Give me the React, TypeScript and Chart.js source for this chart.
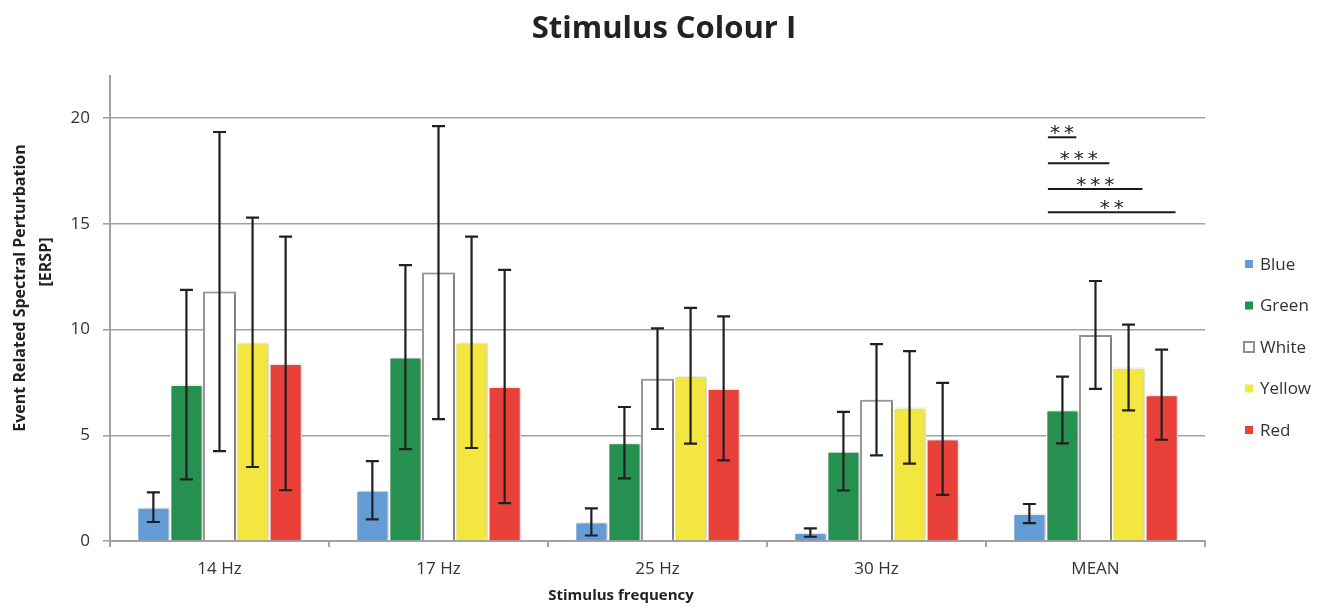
import { useEffect, useRef } from 'react';
import { Chart, registerables } from 'chart.js';

Chart.register(...registerables);

const chartTitle = 'Stimulus Colour I';
const xAxisTitle = 'Stimulus frequency';
const yAxisTitleLines = ['Event Related Spectral Perturbation', '[ERSP]'];

const categories = ['14 Hz', '17 Hz', '25 Hz', '30 Hz', 'MEAN'];
const seriesNames = ['Blue', 'Green', 'White', 'Yellow', 'Red'];

const blueValues = [1.6, 2.4, 0.9, 0.4, 1.3];
const blueErrors = [0.7, 1.38, 0.64, 0.2, 0.45];
const greenValues = [7.4, 8.7, 4.65, 4.25, 6.2];
const greenErrors = [4.48, 4.35, 1.69, 1.86, 1.58];
const whiteValues = [11.8, 12.7, 7.68, 6.68, 9.75];
const whiteErrors = [7.55, 6.93, 2.38, 2.63, 2.55];
const yellowValues = [9.4, 9.4, 7.82, 6.32, 8.21];
const yellowErrors = [5.9, 5.0, 3.21, 2.66, 2.03];
const redValues = [8.4, 7.31, 7.22, 4.83, 6.92];
const redErrors = [6.0, 5.52, 3.41, 2.65, 2.13];

const yTickValues = [0, 5, 10, 15, 20];
const yMax = 22;

// significance brackets (Blue vs. other colour, in the MEAN category)
const sigLabels = ['**', '***', '***', '**'];
const sigHeights = [19.1, 17.87, 16.65, 15.55];
const sigTargets = [1, 2, 3, 4];
const sigCategory = 4;

const fillColors = ['#649DD5', '#25904F', '#FFFFFF', '#F3E640', '#E9403A'];
const borderColors = ['#FFFFFF', '#FFFFFF', '#9A9A9A', '#FFFFFF', '#FFFFFF'];
const valueSets = [blueValues, greenValues, whiteValues, yellowValues, redValues];
const errorSets = [blueErrors, greenErrors, whiteErrors, yellowErrors, redErrors];

const FONT = '"Open Sans", "DejaVu Sans", sans-serif';
const GRID = '#A2A2A2';
const TEXT = '#333333';

const barsPlugin = {
  id: 'barsAndErrors',
  beforeDatasetsDraw(chart: any) {
    const ctx = chart.ctx;
    ctx.save();
    ctx.shadowColor = 'rgba(0,0,0,0.28)';
    ctx.shadowBlur = 3;
    ctx.shadowOffsetX = 1.5;
    ctx.shadowOffsetY = 0;
  },
  afterDatasetsDraw(chart: any) {
    const ctx = chart.ctx;
    ctx.restore();
    const y = chart.scales.y;
    ctx.save();
    ctx.strokeStyle = '#202020';
    ctx.lineWidth = 2.2;
    chart.data.datasets.forEach((ds: any, i: number) => {
      const meta = chart.getDatasetMeta(i);
      meta.data.forEach((bar: any, j: number) => {
        const v = ds.data[j];
        const e = ds.errors[j];
        const yt = y.getPixelForValue(v + e);
        const yb = y.getPixelForValue(Math.max(0, v - e));
        const cx = bar.x;
        const cap = 6.5;
        ctx.beginPath();
        ctx.moveTo(cx, yt);
        ctx.lineTo(cx, yb);
        ctx.moveTo(cx - cap, yt);
        ctx.lineTo(cx + cap, yt);
        ctx.moveTo(cx - cap, yb);
        ctx.lineTo(cx + cap, yb);
        ctx.stroke();
      });
    });
    ctx.restore();
  },
};

const annotationPlugin = {
  id: 'annotations',
  afterDraw(chart: any) {
    const ctx = chart.ctx;
    const y = chart.scales.y;
    const area = chart.chartArea;
    ctx.save();

    // title
    ctx.fillStyle = '#222';
    ctx.font = `bold 31px ${FONT}`;
    ctx.textAlign = 'center';
    ctx.textBaseline = 'alphabetic';
    ctx.fillText(chartTitle, 664, 38);

    // significance lines
    const base = chart.getDatasetMeta(0).data[sigCategory];
    const startX = base.x + base.width / 2 + 2;
    sigLabels.forEach((lab, k) => {
      const tgt = chart.getDatasetMeta(sigTargets[k]).data[sigCategory];
      const endX = tgt.x + tgt.width * 0.42;
      const ly = y.getPixelForValue(sigHeights[k]);
      ctx.strokeStyle = '#1A1A1A';
      ctx.lineWidth = 2;
      ctx.beginPath();
      ctx.moveTo(startX, ly);
      ctx.lineTo(endX, ly);
      ctx.stroke();
      ctx.fillStyle = '#222';
      ctx.font = '20px "DejaVu Sans", sans-serif';
      ctx.textAlign = 'center';
      ctx.textBaseline = 'alphabetic';
      const spaced = lab.split('').join('\u2009');
      ctx.fillText(spaced, (startX + endX) / 2, ly + 2);
    });

    // axis titles
    ctx.fillStyle = '#222';
    ctx.font = `bold 15px ${FONT}`;
    ctx.textAlign = 'center';
    ctx.textBaseline = 'alphabetic';
    ctx.fillText(xAxisTitle, 621, 600);

    ctx.font = `bold 16px ${FONT}`;
    ctx.textBaseline = 'middle';
    const yPos = [
      [20.5, 288],
      [46, 262],
    ];
    yAxisTitleLines.forEach((line, i) => {
      ctx.save();
      ctx.translate(yPos[i][0], yPos[i][1]);
      ctx.rotate(-Math.PI / 2);
      ctx.fillText(line, 0, 0);
      ctx.restore();
    });

    // legend
    const lx = area.right + 40;
    const ly0 = 264;
    const gap = 41.5;
    ctx.font = `17px ${FONT}`;
    ctx.textAlign = 'left';
    ctx.textBaseline = 'middle';
    seriesNames.forEach((name, i) => {
      const cy = ly0 + i * gap;
      if (fillColors[i] === '#FFFFFF') {
        ctx.strokeStyle = '#8F8F8F';
        ctx.lineWidth = 2;
        ctx.strokeRect(lx - 1, cy - 5, 10, 10);
      } else {
        ctx.fillStyle = fillColors[i];
        ctx.fillRect(lx, cy - 4, 8, 8);
      }
      ctx.fillStyle = TEXT;
      ctx.fillText(name, lx + 15, cy + 1);
    });
    ctx.restore();
  },
};

export default function App() {
  const ref = useRef<HTMLCanvasElement | null>(null);

  useEffect(() => {
    if (!ref.current) return;
    const chart = new Chart(ref.current, {
      type: 'bar',
      data: {
        labels: categories,
        datasets: seriesNames.map((name, i) => ({
          label: name,
          data: valueSets[i],
          errors: errorSets[i],
          backgroundColor: fillColors[i],
          borderColor: borderColors[i],
          borderWidth: i === 2 ? 2 : 1.5,
          categoryPercentage: 0.755,
          barPercentage: 1.0,
        })) as any,
      },
      options: {
        animation: false,
        responsive: true,
        maintainAspectRatio: false,
        layout: { padding: { left: 0, right: 121, top: 76, bottom: 0 } },
        plugins: {
          legend: { display: false },
          tooltip: { enabled: false },
          title: { display: false },
        },
        scales: {
          x: {
            afterFit: (s: any) => {
              s.height = 67;
            },
            grid: {
              offset: true,
              drawOnChartArea: false,
              drawTicks: true,
              tickLength: 6,
              color: GRID,
              lineWidth: 2,
            },
            border: { color: GRID, width: 2 },
            ticks: {
              color: TEXT,
              font: { family: FONT, size: 17 },
              padding: 12,
            },
          },
          y: {
            min: 0,
            max: yMax,
            afterFit: (s: any) => {
              s.width = 110;
            },
            afterBuildTicks: (s: any) => {
              s.ticks = yTickValues.map((v) => ({ value: v }));
            },
            grid: {
              color: GRID,
              lineWidth: 1.6,
              tickLength: 7,
              drawTicks: true,
            },
            border: { color: GRID, width: 2 },
            ticks: {
              color: TEXT,
              font: { family: FONT, size: 17 },
              padding: 13,
            },
          },
        },
      } as any,
      plugins: [barsPlugin, annotationPlugin],
    });
    return () => chart.destroy();
  }, []);

  return (
    <div style={{ position: 'absolute', left: 0, top: 0, width: 1326, height: 608 }}>
      <canvas ref={ref} />
    </div>
  );
}
